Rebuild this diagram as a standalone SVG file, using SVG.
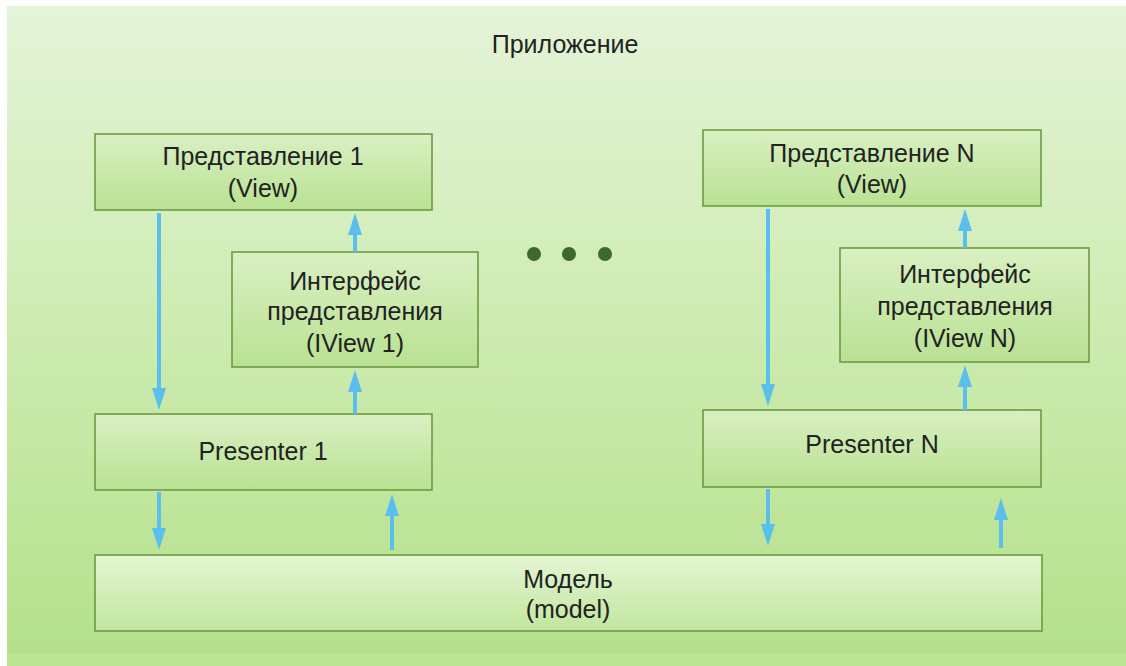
<svg xmlns="http://www.w3.org/2000/svg" width="1126" height="666" viewBox="0 0 1126 666">
  <defs>
    <linearGradient id="bg" x1="0" y1="0" x2="0" y2="1">
      <stop offset="0" stop-color="#e4f4d8"/>
      <stop offset="0.5" stop-color="#cdebb0"/>
      <stop offset="1" stop-color="#b3e089"/>
    </linearGradient>
    <linearGradient id="box" x1="0" y1="0" x2="0" y2="1">
      <stop offset="0" stop-color="#d9f0c2"/>
      <stop offset="1" stop-color="#b9e192"/>
    </linearGradient>
    <linearGradient id="boxLight" x1="0" y1="0" x2="0" y2="1">
      <stop offset="0" stop-color="#e3f5d2"/>
      <stop offset="1" stop-color="#c2e69f"/>
    </linearGradient>
    <!-- arrowhead drawn along +x so orient="auto" turns it with the line;
         the line stops 4px inside the head, the tip sits 18px past the line end -->
    <marker id="head" markerUnits="userSpaceOnUse" markerWidth="24" markerHeight="16" viewBox="0 0 24 16" refX="4" refY="8" orient="auto">
      <path d="M0,1 L22,8 L0,15 Z" fill="#5bbfee"/>
    </marker>
    <style>
      .node rect { stroke: #6c9c42; stroke-width: 1.6; fill: url(#box); }
      .node.model rect { fill: url(#boxLight); }
      text { font-family: "Liberation Sans", Arial, sans-serif; font-size: 25px; fill: #222; text-anchor: middle; }
      .arrow { stroke: #5bbfee; stroke-width: 4; fill: none; }
      .dot { fill: #3c6a2c; }
    </style>
  </defs>

  <!-- application frame -->
  <rect x="0" y="0" width="1126" height="666" fill="#ffffff"/>
  <rect x="7" y="6" width="1119" height="660" fill="url(#bg)"/>
  <rect x="7" y="653" width="1119" height="13" fill="#bfe799" opacity="0.6"/>
  <text x="565" y="53">Приложение</text>

  <g id="view1" class="node">
    <rect x="95" y="134" width="337" height="76"/>
    <text x="263" y="165">Представление 1</text>
    <text x="263" y="197">(View)</text>
  </g>

  <g id="iview1" class="node">
    <rect x="232" y="252" width="246" height="115"/>
    <text x="355" y="290">Интерфейс</text>
    <text x="355" y="320">представления</text>
    <text x="355" y="352">(IView 1)</text>
  </g>

  <g id="presenter1" class="node">
    <rect x="95" y="414" width="337" height="76"/>
    <text x="263" y="460">Presenter 1</text>
  </g>

  <g id="viewN" class="node">
    <rect x="703" y="130" width="338" height="76"/>
    <text x="872" y="162">Представление N</text>
    <text x="872" y="193">(View)</text>
  </g>

  <g id="iviewN" class="node">
    <rect x="840" y="248" width="249" height="114"/>
    <text x="965" y="283">Интерфейс</text>
    <text x="965" y="315">представления</text>
    <text x="965" y="347">(IView N)</text>
  </g>

  <g id="presenterN" class="node">
    <rect x="703" y="410" width="338" height="77"/>
    <text x="872" y="453">Presenter N</text>
  </g>

  <g id="model" class="node model">
    <rect x="95" y="555" width="947" height="76"/>
    <text x="568" y="588">Модель</text>
    <text x="568" y="618">(model)</text>
  </g>

  <!-- ellipsis between the view groups -->
  <g id="ellipsis">
    <circle class="dot" cx="534" cy="254" r="7"/>
    <circle class="dot" cx="569" cy="254" r="7"/>
    <circle class="dot" cx="605" cy="254" r="7"/>
  </g>

  <g id="connectors">
    <path class="arrow" d="M159,213 V392" marker-end="url(#head)"/>
    <path class="arrow" d="M355,252 V231" marker-end="url(#head)"/>
    <path class="arrow" d="M355,414 V388" marker-end="url(#head)"/>
    <path class="arrow" d="M159,492 V532" marker-end="url(#head)"/>
    <path class="arrow" d="M392,550 V512" marker-end="url(#head)"/>
    <path class="arrow" d="M768,209 V388" marker-end="url(#head)"/>
    <path class="arrow" d="M965,248 V227" marker-end="url(#head)"/>
    <path class="arrow" d="M965,410 V383" marker-end="url(#head)"/>
    <path class="arrow" d="M768,489 V528" marker-end="url(#head)"/>
    <path class="arrow" d="M1001,548 V516" marker-end="url(#head)"/>
  </g>
</svg>
